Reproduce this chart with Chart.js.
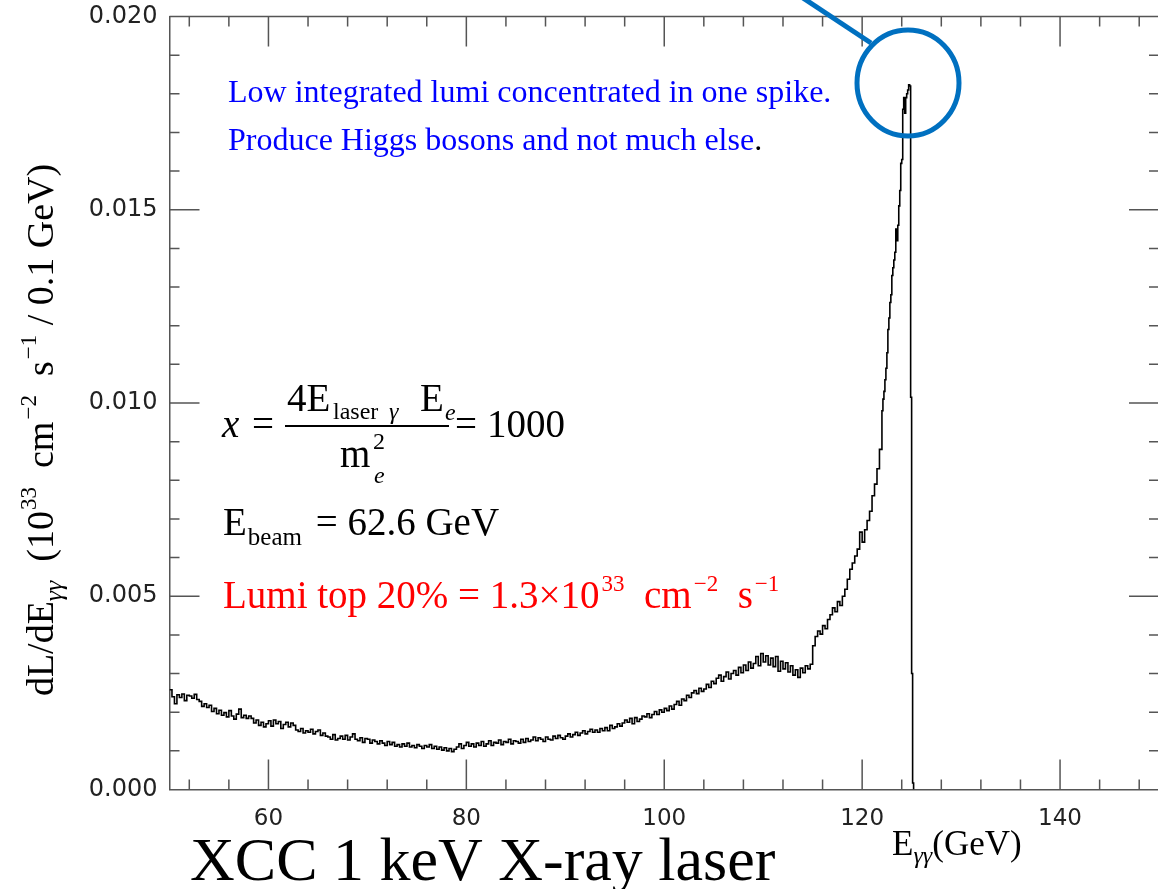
<!DOCTYPE html>
<html><head><meta charset="utf-8">
<script src="https://cdn.jsdelivr.net/npm/chart.js@4.4.0/dist/chart.umd.min.js"></script>
<style>
html,body{margin:0;padding:0;background:#fff;overflow:hidden;width:1158px;height:889px;}
#wrap{position:absolute;left:0;top:0;width:1180px;height:889px;}
canvas{display:block;}
</style></head><body>
<div id="wrap"><canvas id="c" width="1180" height="889"></canvas></div>
<script>
// ---- data (dL/dE in units of 1e-3 x 10^33 cm^-2 s^-1 / 0.1 GeV) ----
const energyStartGeV = 50;
const mainBinGeV = 0.25;
const lumiMain_e3 = [
 2.58,2.40,2.22,2.45, 2.38,2.47,2.30,2.44, 2.42,2.36,2.46,2.33, 2.28,2.15,2.22,2.12,
 2.18,2.02,2.10,1.96, 2.05,1.92,1.99,1.88, 2.04,1.90,1.82,1.95, 2.08,1.86,1.92,1.84,
 1.90,1.84,1.72,1.80, 1.66,1.74,1.62,1.70, 1.78,1.64,1.80,1.70, 1.76,1.58,1.68,1.74,
 1.62,1.72,1.66,1.54, 1.50,1.58,1.46,1.52, 1.48,1.56,1.44,1.50, 1.54,1.40,1.46,1.38,
 1.36,1.30,1.42,1.28, 1.32,1.38,1.30,1.40, 1.28,1.36,1.44,1.30, 1.26,1.34,1.22,1.32,
 1.30,1.20,1.28,1.24, 1.18,1.26,1.20,1.14, 1.24,1.16,1.22,1.12, 1.16,1.10,1.18,1.12,
 1.20,1.10,1.14,1.08, 1.16,1.12,1.06,1.14, 1.10,1.16,1.06,1.12, 1.04,1.10,1.02,1.08,
 1.00,1.06,0.98,1.04, 1.10,1.18,1.06,1.14, 1.22,1.12,1.18,1.10, 1.20,1.14,1.24,1.12,
 1.18,1.26,1.14,1.22, 1.20,1.28,1.16,1.24, 1.22,1.30,1.18,1.26, 1.24,1.20,1.30,1.22,
 1.32,1.24,1.28,1.36, 1.26,1.34,1.30,1.24, 1.36,1.30,1.28,1.38, 1.32,1.40,1.34,1.30,
 1.38,1.44,1.36,1.42, 1.48,1.40,1.46,1.52, 1.44,1.50,1.56,1.48, 1.54,1.48,1.58,1.52,
 1.60,1.52,1.66,1.58, 1.62,1.70,1.64,1.72, 1.80,1.74,1.84,1.70, 1.86,1.76,1.82,1.90,
 1.88,1.96,1.86,1.94, 2.02,1.94,2.06,2.00, 2.10,2.04,2.16,2.08, 2.20,2.28,2.18,2.34,
 2.30,2.44,2.38,2.50, 2.56,2.48,2.62,2.54, 2.60,2.72,2.64,2.80, 2.74,2.88,2.96,2.80,
 2.92,3.04,2.86,3.00, 3.08,2.96,3.16,3.02, 3.22,3.08,3.30,3.14, 3.26,3.44,3.20,3.52,
 3.30,3.46,3.22,3.40, 3.18,3.44,3.06,3.32, 3.12,3.28,3.04,3.20, 2.96,3.10,2.90,3.14,
 3.02,3.20,3.12,3.24, 3.72,3.96,4.10,4.02, 4.24,4.16,4.40,4.52, 4.70,4.60,4.86,4.76,
 5.00,5.18,5.44,5.70, 5.86,6.04,6.22,6.66, 6.40,6.72,6.96,7.20, 7.60,7.90,8.30,8.80
];
const spikeStartGeV = 122;
const spikeBinGeV = 0.1;
const lumiSpike_e3 = [
 9.8,10.1,10.3,10.6,10.9,11.3,11.9,12.2,12.6,12.8,
 13.3,13.5,13.7,13.9,14.5,14.2,14.6,15.1,15.5,16.2,
 16.3,17.6,17.9,17.5,17.9,18.0,18.1,18.23,18.2,10.15,
 3.0,0.17
];
const xRange = [50, 150];
const yRange = [0, 0.020];
const xTickLabels = [60, 80, 100, 120, 140];
const yTickLabels = [0, 0.005, 0.010, 0.015, 0.020];
const xMinorStep = 4, xMajorStep = 20;
const yMinorStep = 0.001, yMajorStep = 0.005;

// ---- build histogram points (bin left edges + closing edge) ----
const pts = [];
lumiMain_e3.forEach((v, i) => pts.push({x: energyStartGeV + i * mainBinGeV, y: v / 1000}));
lumiSpike_e3.forEach((v, i) => pts.push({x: spikeStartGeV + i * spikeBinGeV, y: v / 1000}));
pts.push({x: spikeStartGeV + lumiSpike_e3.length * spikeBinGeV, y: 0});

const axisColor = '#555';
const SERIF = '"Liberation Serif", "Times New Roman", serif';

function drawRich(ctx, x, y, segs) {
  let cx = x;
  for (const s of segs) {
    ctx.font = s.font;
    ctx.fillStyle = s.color || '#000';
    ctx.fillText(s.t, cx + (s.dx || 0), y + (s.dy || 0));
    cx += ctx.measureText(s.t).width + (s.dx || 0) + (s.gap || 0);
  }
  return cx;
}
function richWidth(ctx, segs) {
  let w = 0;
  for (const s of segs) { ctx.font = s.font; w += ctx.measureText(s.t).width + (s.dx || 0) + (s.gap || 0); }
  return w;
}

const frameTicks = {
  id: 'frameTicks',
  afterDatasetsDraw(chart) {
    const {ctx, chartArea: a, scales: {x, y}} = chart;
    ctx.save();
    ctx.strokeStyle = axisColor;
    ctx.lineWidth = 1.5;
    ctx.beginPath();
    ctx.moveTo(a.left, a.top); ctx.lineTo(a.right, a.top);
    ctx.moveTo(a.right, a.top); ctx.lineTo(a.right, a.bottom);
    const first = Math.ceil(xRange[0] / xMinorStep) * xMinorStep;
    const nx = Math.round((xRange[1] - first) / xMinorStep);
    for (let k = 0; k <= nx; k++) {
      const v = first + k * xMinorStep;
      if (v <= xRange[0] || v >= xRange[1]) continue;
      const px = x.getPixelForValue(v);
      const len = (v % xMajorStep === 0) ? 30 : 10;
      ctx.moveTo(px, a.bottom); ctx.lineTo(px, a.bottom - len);
      ctx.moveTo(px, a.top); ctx.lineTo(px, a.top + len);
    }
    const ny = Math.round((yRange[1] - yRange[0]) / yMinorStep);
    const per = Math.round(yMajorStep / yMinorStep);
    for (let k = 1; k < ny; k++) {
      const v = yRange[0] + k * yMinorStep;
      const py = y.getPixelForValue(v);
      const len = (k % per === 0) ? 30 : 10;
      ctx.moveTo(a.left, py); ctx.lineTo(a.left + len, py);
      ctx.moveTo(a.right, py); ctx.lineTo(a.right - len, py);
    }
    ctx.stroke();
    ctx.restore();
  },
  afterDraw(chart) {
    const {ctx} = chart;
    ctx.save();
    ctx.textBaseline = 'alphabetic';
    ctx.textAlign = 'left';
    // blue notes
    const f32 = '32px ' + SERIF;
    drawRich(ctx, 228, 102, [{t: 'Low integrated lumi concentrated in one spike.', font: f32, color: '#0000ff'}]);
    drawRich(ctx, 228, 150, [{t: 'Produce Higgs bosons and not much else', font: f32, color: '#0000ff'}, {t: '.', font: f32, color: '#000'}]);

    // formula x = 4 E_laser γ E_e / m_e^2 = 1000
    const F = 39, fN = F + 'px ' + SERIF, fI = 'italic ' + F + 'px ' + SERIF;
    const fS = '24px ' + SERIF, fSI = 'italic 24px ' + SERIF;
    drawRich(ctx, 222, 437, [{t: 'x', font: fI}]);
    drawRich(ctx, 252, 437, [{t: '=', font: fN}]);
    ctx.strokeStyle = '#000'; ctx.lineWidth = 2;
    ctx.beginPath(); ctx.moveTo(285, 426); ctx.lineTo(449, 426); ctx.stroke();
    drawRich(ctx, 287, 411, [{t: '4E', font: fN}]);
    drawRich(ctx, 333, 419, [{t: 'laser', font: fS}]);
    drawRich(ctx, 389, 419, [{t: 'γ', font: fSI}]);
    drawRich(ctx, 420, 411, [{t: 'E', font: fN}]);
    drawRich(ctx, 445, 420, [{t: 'e', font: fSI}]);
    drawRich(ctx, 340, 467, [{t: 'm', font: fN}]);
    drawRich(ctx, 373, 449, [{t: '2', font: fS}]);
    drawRich(ctx, 374, 483, [{t: 'e', font: fSI}]);
    drawRich(ctx, 455, 437, [{t: '=', font: fN}, {t: '1000', font: fN, dx: 10}]);

    // E_beam
    drawRich(ctx, 223, 535, [
      {t: 'E', font: fN},
      {t: 'beam', font: '25px ' + SERIF, dy: 10, dx: 1},
      {t: ' = 62.6 GeV', font: fN, dx: 4}
    ]);
    // Lumi top 20%
    const red = '#ff0000';
    const fR = F + 'px ' + SERIF, fRs = '23px ' + SERIF;
    drawRich(ctx, 223, 608, [
      {t: 'Lumi top 20% = 1.3×10', font: fR, color: red},
      {t: '33', font: fRs, color: red, dy: -17, dx: 2},
      {t: '  cm', font: fR, color: red},
      {t: '−2', font: fRs, color: red, dy: -17, dx: 2},
      {t: '  s', font: fR, color: red},
      {t: '−1', font: fRs, color: red, dy: -17, dx: 2}
    ]);

    // blue circle + pointer
    ctx.strokeStyle = '#0070c0';
    ctx.lineWidth = 5;
    ctx.beginPath(); ctx.ellipse(908, 83, 51, 53, 0, 0, Math.PI * 2); ctx.stroke();
    ctx.beginPath(); ctx.moveTo(800, -4); ctx.lineTo(871, 43); ctx.stroke();

    // x-axis title
    const fX = '35px ' + SERIF;
    drawRich(ctx, 892, 855, [
      {t: 'E', font: fX},
      {t: 'γγ', font: 'italic 24px ' + SERIF, dy: 8, dx: 0},
      {t: '(GeV)', font: fX}
    ]);

    // y-axis title (rotated)
    const fY = '38px ' + SERIF, fYs = '23px ' + SERIF;
    const ySegs = [
      {t: 'dL/dE', font: fY},
      {t: 'γγ', font: 'italic 26px ' + SERIF, dy: 9},
      {t: '  (10', font: fY},
      {t: '33', font: fYs, dy: -17, dx: 1},
      {t: '  cm', font: fY},
      {t: '−2', font: fYs, dy: -17, dx: 2},
      {t: '  s', font: fY},
      {t: '−1', font: fYs, dy: -17, dx: 2},
      {t: ' / 0.1 GeV)', font: fY}
    ];
    const w = richWidth(ctx, ySegs);
    ctx.save();
    ctx.translate(53, 430);
    ctx.rotate(-Math.PI / 2);
    drawRich(ctx, -w / 2, 0, ySegs);
    ctx.restore();

    // big caption
    drawRich(ctx, 190, 880, [{t: 'XCC 1 keV X-ray laser', font: '62px ' + SERIF}]);
    ctx.restore();
  }
};

const tickFont = {family: '"DejaVu Sans", sans-serif', size: 23};
new Chart(document.getElementById('c'), {
  type: 'line',
  data: {datasets: [{
    data: pts, borderColor: '#000', borderWidth: 1.6, pointRadius: 0,
    stepped: true, fill: false, tension: 0
  }]},
  options: {
    responsive: false, animation: false, devicePixelRatio: 1,
    layout: {padding: {left: 80, right: 21, top: 16.5, bottom: 59.5}},
    plugins: {legend: {display: false}, tooltip: {enabled: false}},
    scales: {
      x: {
        type: 'linear', min: xRange[0], max: xRange[1],
        afterBuildTicks: s => { s.ticks = xTickLabels.map(v => ({value: v})); },
        afterFit: s => { s.height = 40; s.paddingLeft = 0; s.paddingRight = 0; },
        grid: {display: false, drawTicks: false},
        border: {display: true, color: axisColor, width: 1.5},
        ticks: {callback: v => String(v), font: tickFont, color: '#222', padding: 16, maxRotation: 0, autoSkip: false}
      },
      y: {
        type: 'linear', min: yRange[0], max: yRange[1],
        afterBuildTicks: s => { s.ticks = yTickLabels.map(v => ({value: v})); },
        afterFit: s => { s.width = 89.5; s.paddingTop = 0; s.paddingBottom = 0; },
        grid: {display: false, drawTicks: false},
        border: {display: true, color: axisColor, width: 1.5},
        ticks: {callback: v => v.toFixed(3), font: {family: '"DejaVu Sans", sans-serif', size: 24}, color: '#222', padding: 12, autoSkip: false}
      }
    }
  },
  plugins: [frameTicks]
});
</script></body></html>
